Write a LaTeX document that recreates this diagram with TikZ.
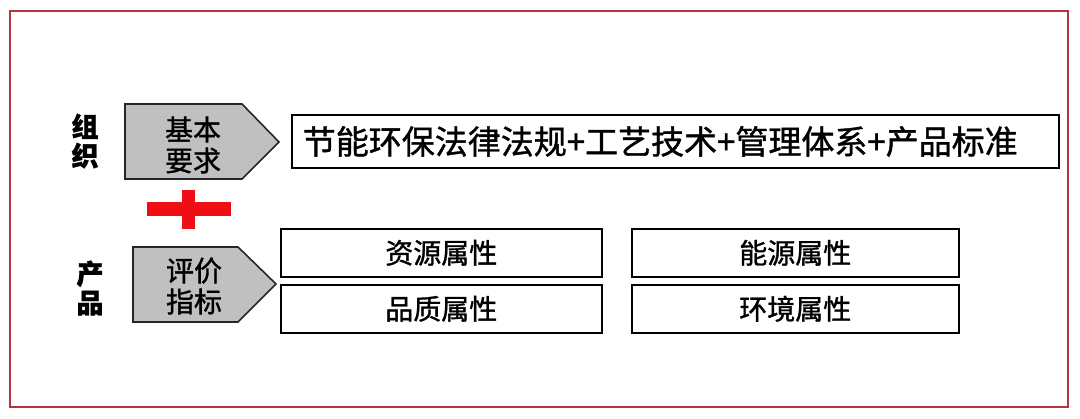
\documentclass[tikz,border=0pt]{standalone}
\usepackage{fontspec}
\usepackage{xcolor}
\setmainfont{Noto Sans CJK SC}[FakeBold=1.2]
\newfontfamily\heavyfont{Noto Sans CJK SC}[FakeBold=1.2]
\usetikzlibrary{positioning}

\definecolor{framered}{RGB}{178,52,62}
\definecolor{plusred}{RGB}{240,14,20}
\definecolor{tabgray}{RGB}{192,192,192}

\tikzset{
    attrbox/.style={draw=black, line width=1.6pt, inner sep=0pt, minimum height=48pt,
        font=\heavyfont\fontsize{28}{30}\selectfont},
    tabshape/.style={draw=black!85, line width=1.6pt, fill=tabgray},
    tabtext/.style={align=center, inner sep=0pt, font=\heavyfont\fontsize{28}{31}\selectfont},
    sidetext/.style={align=center, inner sep=0pt, font=\bfseries\fontsize{27}{29}\selectfont}
}

\begin{document}
\begin{tikzpicture}[x=1pt, y=-1pt]
        \useasboundingbox (0,0) rectangle (1080,419);
        \draw [framered, line width=2pt] (10,11) rectangle (1068,407);

        % organisation row
        \node (org) [sidetext] at (85,141) {组\\织};
        \draw [tabshape] (125,104) -- (242,104) -- (279,142) -- (242,179) -- (125,179) -- cycle;
        \node (basic) [tabtext] at (193,145) {基本\\要求};
        \node (law) [attrbox, anchor=west, minimum width=767pt, minimum height=53pt,
            text width=745pt, inner xsep=11pt, align=left, font=\heavyfont\fontsize{33}{35}\selectfont]
            at (291,141.5) {节能环保法律法规+工艺技术+管理体系+产品标准};

        % red plus
        \fill [plusred] (147,202) rectangle (231,216);
        \fill [plusred] (182,190) rectangle (195,229);

        % product row
        \node (prod) [sidetext] at (90,288) {产\\品};
        \draw [tabshape] (133,247) -- (238,247) -- (276,284) -- (238,322) -- (133,322) -- cycle;
        \node (index) [tabtext] at (194,286) {评价\\指标};

        \node (res) [attrbox, anchor=north west, minimum width=321pt] at (280,228) {资源属性};
        \node (qual) [attrbox, anchor=north west, minimum width=321pt] at (280,284) {品质属性};
        \node (ene) [attrbox, anchor=north west, minimum width=327pt] at (631,228) {能源属性};
        \node (env) [attrbox, anchor=north west, minimum width=327pt] at (631,284) {环境属性};
    \end{tikzpicture}
\end{document}
